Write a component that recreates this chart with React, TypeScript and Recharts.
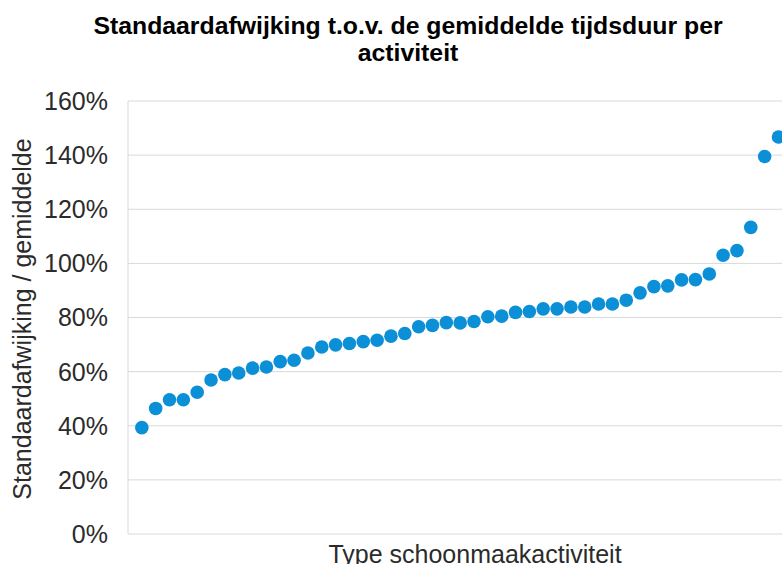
import React from 'react';
import { ScatterChart, Scatter, XAxis, YAxis, CartesianGrid } from 'recharts';

// standaardafwijking / gemiddelde per activiteit (%), oplopend gesorteerd
const ratios = [
  39.3, 46.4, 49.6, 49.6, 52.4, 56.9, 58.9, 59.5, 61.3, 61.7,
  63.7, 64.2, 66.9, 69.1, 69.9, 70.4, 71.1, 71.6, 73.1, 74.1,
  76.6, 77.1, 78.1, 78.0, 78.5, 80.3, 80.5, 81.9, 82.2, 83.2,
  83.2, 83.9, 83.9, 85.0, 85.0, 86.4, 89.1, 91.4, 91.7, 93.9,
  94.0, 96.1, 103.0, 104.7, 113.3, 139.5, 146.7,
];
const yTicks = [0, 20, 40, 60, 80, 100, 120, 140, 160];

const points = ratios.map((v, i) => ({ idx: i + 1, value: v }));

const FONT = '"Liberation Sans", Arial, sans-serif';
const DOT = '#0b8fd6';
const GRID = '#d9d9d9';

export default function App() {
  return (
    <div
      style={{
        position: 'absolute',
        left: 0,
        top: 0,
        width: 782,
        height: 564,
        overflow: 'hidden',
        background: '#fff',
        fontFamily: FONT,
      }}
    >
      <div
        style={{
          position: 'absolute',
          left: 0,
          width: 816,
          top: 12,
          textAlign: 'center',
          fontWeight: 'bold',
          fontSize: 24.8,
          lineHeight: '27px',
          color: '#000',
        }}
      >
        Standaardafwijking t.o.v. de gemiddelde tijdsduur per
        <br />
        activiteit
      </div>

      <ScatterChart
        width={830}
        height={564}
        margin={{ top: 101, right: 10, bottom: 30, left: 0 }}
      >
        <CartesianGrid vertical={false} stroke={GRID} />
        <XAxis type="number" dataKey="idx" domain={[0, 50]} hide />
        <YAxis
          type="number"
          dataKey="value"
          domain={[0, 160]}
          ticks={yTicks}
          width={128}
          tickFormatter={(v: number) => `${v}%`}
          tick={{ fontSize: 25, fill: '#2b2b2b', fontFamily: FONT }}
          tickLine={false}
          tickSize={0}
          tickMargin={20}
          axisLine={{ stroke: GRID }}
        />
        <Scatter
          data={points}
          fill={DOT}
          isAnimationActive={false}
          shape={(p: any) => <circle cx={p.cx} cy={p.cy} r={6.8} fill={DOT} />}
        />
      </ScatterChart>

      <div
        style={{
          position: 'absolute',
          left: 22,
          top: 319,
          transform: 'translate(-50%, -50%) rotate(-90deg)',
          whiteSpace: 'nowrap',
          fontSize: 25,
          color: '#2b2b2b',
        }}
      >
        Standaardafwijking / gemiddelde
      </div>

      <div
        style={{
          position: 'absolute',
          left: 475,
          top: 554,
          transform: 'translate(-50%, -50%)',
          whiteSpace: 'nowrap',
          fontSize: 25,
          color: '#2b2b2b',
        }}
      >
        Type schoonmaakactiviteit
      </div>
    </div>
  );
}
